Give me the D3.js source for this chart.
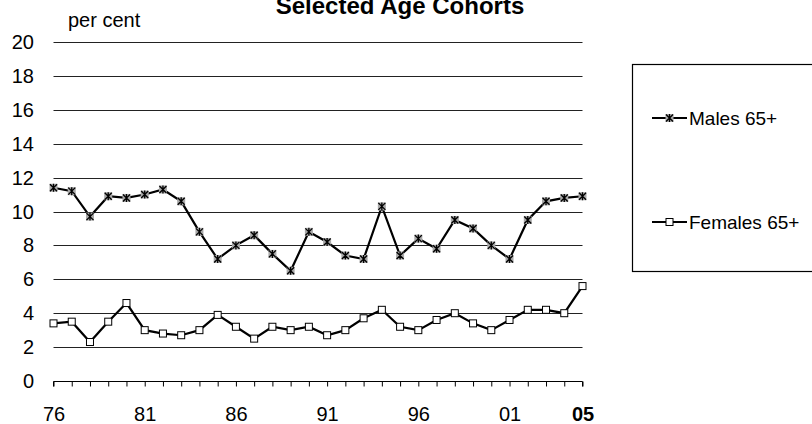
<!DOCTYPE html>
<html>
<head>
<meta charset="utf-8">
<script src="https://cdn.jsdelivr.net/npm/d3@7"></script>
<style>
  body { margin: 0; background: #fff; }
  svg { font-family: "Liberation Sans", Arial, sans-serif; }
</style>
</head>
<body>
<div id="chart"></div>
<script>
// data
const years = d3.range(1976, 2006);
const males = [11.4, 11.2, 9.7, 10.9, 10.8, 11.0, 11.3, 10.6, 8.8, 7.2, 8.0, 8.6, 7.5, 6.5, 8.8,
               8.2, 7.4, 7.2, 10.3, 7.4, 8.4, 7.8, 9.5, 9.0, 8.0, 7.2, 9.5, 10.6, 10.8, 10.9];
const females = [3.4, 3.5, 2.3, 3.5, 4.6, 3.0, 2.8, 2.7, 3.0, 3.9, 3.2, 2.5, 3.2, 3.0, 3.2,
                 2.7, 3.0, 3.7, 4.2, 3.2, 3.0, 3.6, 4.0, 3.4, 3.0, 3.6, 4.2, 4.2, 4.0, 5.6];
const xLabels = {1976: "76", 1981: "81", 1986: "86", 1991: "91", 1996: "96", 2001: "01", 2005: "05"};
const yTicks = [0, 2, 4, 6, 8, 10, 12, 14, 16, 18, 20];
const seriesNames = ["Males 65+", "Females 65+"];

const W = 812, H = 424;
const svg = d3.select("#chart").append("svg")
    .attr("width", W).attr("height", H);

const x = d3.scalePoint().domain(years).range([53.5, 582.5]);
const y = d3.scaleLinear().domain([0, 20]).range([381, 42]);

// gridlines
svg.append("g")
    .selectAll("line")
    .data(yTicks.filter(d => d > 0))
    .enter().append("line")
    .attr("x1", x(1976)).attr("x2", x(2005))
    .attr("y1", d => Math.round(y(d)) + 0.5).attr("y2", d => Math.round(y(d)) + 0.5)
    .attr("stroke", "#222").attr("stroke-width", 1);

// y labels
svg.append("g")
    .selectAll("text")
    .data(yTicks)
    .enter().append("text")
    .attr("x", 34).attr("y", d => y(d))
    .attr("dy", "0.35em")
    .attr("text-anchor", "end")
    .attr("font-size", 20)
    .text(d => d);

// x axis
const xAxis = d3.axisBottom(x)
    .tickSize(5)
    .tickPadding(20)
    .tickFormat(d => xLabels[d] || "");
const gx = svg.append("g")
    .attr("transform", `translate(0, ${Math.round(y(0)) + 0.5})`)
    .call(xAxis);
gx.select(".domain").attr("stroke", "#000").attr("d", `M${x(1976)},5V0H${x(2005)}V5`);
gx.selectAll(".tick line").attr("stroke", "#000");
gx.selectAll(".tick text")
    .attr("font-family", "Liberation Sans, Arial, sans-serif")
    .attr("font-size", 20)
    .attr("fill", "#000")
    .attr("font-weight", d => d === 2005 ? "bold" : "normal");

// title + unit
svg.append("text")
    .attr("x", 400).attr("y", 14)
    .attr("text-anchor", "middle")
    .attr("font-size", 24).attr("font-weight", "bold")
    .text("Selected Age Cohorts");
svg.append("text")
    .attr("x", 68).attr("y", 27)
    .attr("font-size", 20)
    .text("per cent");

// lines
const line = d3.line().x((d, i) => x(years[i])).y(d => y(d));
svg.append("path").datum(males)
    .attr("d", line).attr("fill", "none")
    .attr("stroke", "#000").attr("stroke-width", 2.2);
svg.append("path").datum(females)
    .attr("d", line).attr("fill", "none")
    .attr("stroke", "#000").attr("stroke-width", 2.2);

function starMarker(g) {
  g.append("rect").attr("x", -4).attr("y", -4).attr("width", 8).attr("height", 8)
      .attr("fill", "#a8a8a8");
  g.append("path").attr("d", "M-3.5,-3.5L3.5,3.5M-3.5,3.5L3.5,-3.5M0,-4V4")
      .attr("stroke", "#000").attr("stroke-width", 1.3);
}
function squareMarker(g) {
  g.append("rect").attr("x", -3.5).attr("y", -3.5).attr("width", 7).attr("height", 7)
      .attr("fill", "#fff").attr("stroke", "#000").attr("stroke-width", 1);
}

svg.append("g").selectAll("g")
    .data(males).enter().append("g")
    .attr("transform", (d, i) => `translate(${x(years[i])}, ${y(d)})`)
    .each(function() { starMarker(d3.select(this)); });
svg.append("g").selectAll("g")
    .data(females).enter().append("g")
    .attr("transform", (d, i) => `translate(${x(years[i])}, ${y(d)})`)
    .each(function() { squareMarker(d3.select(this)); });

// legend
const leg = svg.append("g");
leg.append("rect")
    .attr("x", 632.5).attr("y", 64.5).attr("width", 200).attr("height", 207)
    .attr("fill", "#fff").attr("stroke", "#000").attr("stroke-width", 1.2);
const legY = [118, 222];
seriesNames.forEach((name, i) => {
  const g = leg.append("g").attr("transform", `translate(0, ${legY[i]})`);
  g.append("line").attr("x1", 652).attr("x2", 687).attr("y1", 0).attr("y2", 0)
      .attr("stroke", "#000").attr("stroke-width", 2.2);
  const m = g.append("g").attr("transform", "translate(669.5, 0)");
  if (i === 0) starMarker(m); else squareMarker(m);
  g.append("text").attr("x", 689).attr("y", 0).attr("dy", "0.35em")
      .attr("font-size", 19).text(name);
});
</script>
</body>
</html>
